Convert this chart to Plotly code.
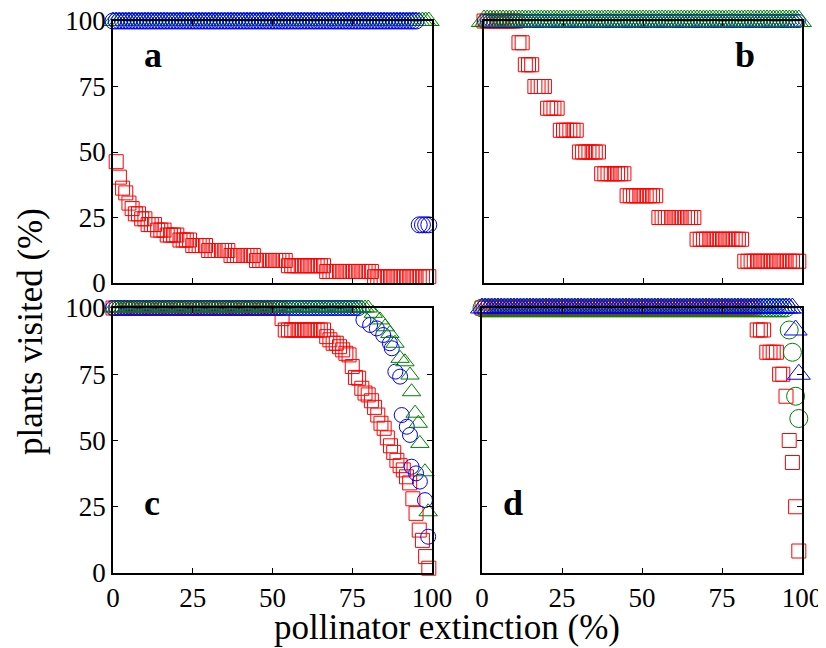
import plotly.graph_objects as go

# the page body has an 8 px margin: positions below are given in window pixels
OFF = 8
W, H = 826, 648

# ---------------- data (x = pollinator extinction %, y = plants visited %) ----------------
# runs are (value, first x, last x) on the 1 % extinction grid
a_red_runs = [(46.3, 1, 1), (40.4, 2, 2), (36.2, 3, 3), (34.4, 4, 4), (30.5, 5, 5), (28.4, 6, 6),
              (26.4, 7, 8), (24.5, 9, 10), (22.3, 11, 13), (20.2, 14, 16), (18.3, 17, 20),
              (16.4, 21, 24), (14.3, 25, 29), (12.4, 30, 36), (10.5, 37, 44), (8.6, 45, 54),
              (6.6, 55, 66), (4.4, 67, 81), (2.4, 82, 99)]
a_green_runs = [(100, 0, 99)]
a_blue_runs = [(100, 0, 95), (22.2, 96, 99)]

b_red_runs = [(100, 0, 10), (91.7, 11, 12), (83.3, 13, 15), (75.0, 16, 19), (66.7, 20, 23),
              (58.3, 24, 29), (50.0, 30, 36), (41.7, 37, 44), (33.3, 45, 54), (25.0, 55, 66),
              (16.7, 67, 81), (8.3, 82, 99)]
b_green_runs = [(100, 0, 99)]
b_blue_runs = [(100, 0, 99)]

c_red_runs = [(100, 0, 52), (96.0, 53, 53), (91.7, 54, 66)]
c_red_x = [67, 68, 69, 70, 71, 72, 73, 74, 75, 76, 77, 78, 79, 80, 81, 82, 83, 84, 85, 86,
           87, 88, 89, 90, 91, 92, 93, 94, 95, 96, 97, 98, 99]
c_red_y = [89.2, 88.0, 86.7, 86.7, 85.4, 84.2, 82.9, 82.3, 77.9, 73.8, 73.5, 69.7, 67.9, 67.2,
           65.0, 62.5, 59.6, 56.5, 54.6, 51.0, 48.0, 45.5, 42.5, 40.5, 38.9, 36.3, 34.0, 28.0,
           22.5, 16.2, 12.3, 6.2, 1.8]
c_blue_runs = [(100, 0, 77)]
c_blue_x = [78.5, 80.6, 82.7, 84.7, 86.8, 87.4, 88.5, 90.0, 90.5, 92.1, 93.1, 93.6, 95.0, 96.2, 97.8, 98.8]
c_blue_y = [95.5, 93.6, 92.3, 89.8, 86.7, 84.8, 76.0, 74.1, 59.6, 55.2, 52.1, 40.1, 37.6, 34.5, 27.5, 13.7]
c_green_runs = [(100, 0, 80)]
c_green_x = [81.6, 83.7, 85.3, 86.8, 88.4, 90.0, 91.5, 93.1, 93.6, 94.7, 95.7, 96.2, 97.8, 98.8]
c_green_y = [98.0, 95.5, 92.9, 90.4, 86.7, 81.0, 79.7, 74.7, 68.4, 60.3, 56.5, 48.9, 38.2, 23.1]

d_red_runs = [(100, 0, 85), (91.7, 86, 88), (83.3, 89, 92), (75.0, 93, 94), (66.7, 95, 95),
              (50.0, 96, 96), (41.7, 97, 97), (25.0, 98, 98), (8.3, 99, 99)]
d_green_runs = [(100, 0, 95), (91.7, 96, 96), (83.3, 97, 97), (66.7, 98, 98), (58.3, 99, 99)]
d_blue_runs = [(100, 0, 97), (91.7, 98, 98), (75.0, 99, 99)]

ticks = [0, 25, 50, 75, 100]
tick_text = ["0", "25", "50", "75", "100"]
panel_letters = ["a", "b", "c", "d"]
x_title = "pollinator extinction (%)"
y_title = "plants visited (%)"


def expand(runs, xs=None, ys=None):
    x, y = [], []
    for v, x0, x1 in runs:
        for i in range(x0, x1 + 1):
            x.append(i)
            y.append(v)
    if xs is not None:
        x += list(xs)
        y += list(ys)
    return x, y


def px(xp):
    return (xp - OFF) / W


def py(yp):
    return 1 - (yp - OFF) / H


RED, BLUE, GREEN = "#ff0000", "#0000ff", "#008000"
FONT = "Liberation Serif, Tinos, Times New Roman, DejaVu Serif, serif"

# panel geometry in window pixels (left, right, top, bottom)
geo = {
    "a": (113, 432, 21, 283),
    "b": (484, 802, 21, 283),
    "c": (113, 432, 308, 573),
    "d": (482, 802, 308, 573),
}

series = {
    "a": [(expand(a_red_runs), "square-open", 14, RED),
          (expand(a_green_runs), "triangle-up-open", 18, GREEN),
          (expand(a_blue_runs), "circle-open", 16, BLUE)],
    "b": [(expand(b_red_runs), "square-open", 14, RED),
          (expand(b_blue_runs), "circle-open", 13, BLUE),
          (expand(b_green_runs), "triangle-up-open", 22, GREEN)],
    "c": [(expand(c_red_runs, c_red_x, c_red_y), "square-open", 14, RED),
          (expand(c_blue_runs, c_blue_x, c_blue_y), "circle-open", 15, BLUE),
          (expand(c_green_runs, c_green_x, c_green_y), "triangle-up-open", 16, GREEN)],
    "d": [(expand(d_red_runs), "square-open", 14, RED),
          (expand(d_green_runs), "circle-open", 18, GREEN),
          (expand(d_blue_runs), "triangle-up-open", 20, BLUE)],
}

fig = go.Figure()
layout = {}
for k, name in enumerate(["a", "b", "c", "d"]):
    idx = "" if k == 0 else str(k + 1)
    xa, ya = "x" + idx, "y" + idx
    for (xy, sym, size, col) in series[name]:
        fig.add_trace(go.Scatter(
            x=xy[0], y=xy[1], mode="markers", xaxis=xa, yaxis=ya, cliponaxis=False,
            showlegend=False, hoverinfo="skip",
            marker=dict(symbol=sym, size=size, color=col, line=dict(width=1, color=col)),
        ))
    l, r, t, b = geo[name]
    common = dict(range=[0, 100], tickvals=ticks, ticktext=tick_text, ticks="inside",
                  ticklen=5, tickwidth=1, tickcolor="black", showline=True, linecolor="black",
                  linewidth=1.5, mirror="ticks", showgrid=False, zeroline=False,
                  automargin=False, ticklabeloverflow="allow",
                  tickfont=dict(family=FONT, size=27, color="black"))
    layout["xaxis" + idx] = dict(common, domain=[px(l), px(r)], anchor=ya,
                                 showticklabels=name in ("c", "d"))
    layout["yaxis" + idx] = dict(common, domain=[py(b), py(t)], anchor=xa,
                                 showticklabels=name in ("a", "c"))

letter_pos = {"a": (153, 55), "b": (745, 55), "c": (152, 503), "d": (513, 503)}
annotations = []
for name in panel_letters:
    lx, ly = letter_pos[name]
    annotations.append(dict(text="<b>%s</b>" % name, x=px(lx), y=py(ly), xref="paper", yref="paper",
                            showarrow=False, xanchor="center", yanchor="middle",
                            font=dict(family=FONT, size=36, color="black")))
annotations.append(dict(text=x_title, x=px(447), y=py(627), xref="paper", yref="paper",
                        showarrow=False, xanchor="center", yanchor="middle",
                        font=dict(family=FONT, size=35, color="black")))
annotations.append(dict(text=y_title, x=px(30), y=py(332), xref="paper", yref="paper",
                        showarrow=False, xanchor="center", yanchor="middle", textangle=-90,
                        font=dict(family=FONT, size=35, color="black")))

fig.update_layout(width=W, height=H, margin=dict(l=0, r=0, t=0, b=0, autoexpand=False),
                  paper_bgcolor="white", plot_bgcolor="white", template="none",
                  font=dict(family=FONT, color="black"),
                  annotations=annotations, **layout)

fig.write_html("out.html")
